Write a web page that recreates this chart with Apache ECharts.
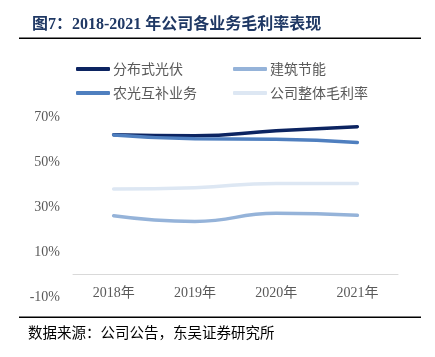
<!DOCTYPE html>
<html><head><meta charset="utf-8">
<script src="https://cdn.jsdelivr.net/npm/echarts@6/dist/echarts.min.js"></script>
<style>html,body{margin:0;padding:0;background:#fff}#c{width:435px;height:357px}</style>
</head><body><div id="c"></div>
<script>
var categories = ['2018年', '2019年', '2020年', '2021年'];
var seriesNames = ['分布式光伏', '建筑节能', '农光互补业务', '公司整体毛利率'];
var pvValues = [62.1, 61.7, 63.9, 65.7];
var buildingValues = [26.1, 23.6, 27.2, 26.3];
var agriValues = [62.0, 60.3, 60.1, 58.7];
var totalValues = [38.0, 38.6, 40.5, 40.5];
var yTicks = [-10, 10, 30, 50, 70];
var colors = ['#0c2461', '#95b3d9', '#4f7fbf', '#dde7f3'];
var dataList = [pvValues, buildingValues, agriValues, totalValues];

var chart = echarts.init(document.getElementById('c'), null, {renderer: 'canvas'});
var legendPos = [[71, 57], [228, 57], [71, 81], [228, 81]];
var legends = seriesNames.map(function (n, i) {
  return {
    data: [n], left: legendPos[i][0], top: legendPos[i][1],
    icon: 'roundRect', itemWidth: 34, itemHeight: 4, itemGap: 0,
    textStyle: {color: '#595959', fontSize: 14, fontFamily: 'Noto Sans CJK SC', padding: [0, 0, 0, -2]},
    selectedMode: false
  };
});
var series = seriesNames.map(function (n, i) {
  return {
    name: n, type: 'line', smooth: true, symbol: 'none',
    data: dataList[i], color: colors[i],
    lineStyle: {width: 3.5, color: colors[i], cap: 'round'},
    z: 10 - (i === 3 ? 5 : 0)
  };
});
chart.setOption({
  animation: false,
  title: {
    text: '图7：2018-2021 年公司各业务毛利率表现', left: 27, top: 12,
    textStyle: {color: '#1f3864', fontSize: 16, fontWeight: 'bold', fontFamily: 'Liberation Serif, Noto Sans CJK SC'}
  },
  legend: legends,
  grid: {left: 73, right: 37, top: 117, bottom: 60},
  xAxis: {
    type: 'category', data: categories, boundaryGap: true,
    axisLine: {show: true, onZero: true, lineStyle: {color: '#d9d9d9', width: 1}},
    axisTick: {show: false},
    axisLabel: {color: '#595959', fontSize: 14, fontFamily: 'Liberation Serif, Noto Sans CJK SC', margin: -11}
  },
  yAxis: {
    type: 'value', min: yTicks[0], max: yTicks[yTicks.length - 1], interval: 20,
    axisLine: {show: false}, axisTick: {show: false}, splitLine: {show: false},
    axisLabel: {color: '#595959', fontSize: 14, fontFamily: 'Liberation Serif', margin: 13, formatter: '{value}%'}
  },
  series: series,
  graphic: [
    {type: 'rect', shape: {x: 19, y: 37.5, width: 402, height: 1.5}, style: {fill: '#000'}},
    {type: 'rect', shape: {x: 19, y: 316.5, width: 402, height: 1.5}, style: {fill: '#000'}},
    {type: 'text', left: 28, top: 325, style: {text: '数据来源：公司公告，东吴证券研究所', fill: '#000', fontSize: 14.5, fontFamily: 'Noto Sans CJK SC'}}
  ]
});
</script></body></html>
